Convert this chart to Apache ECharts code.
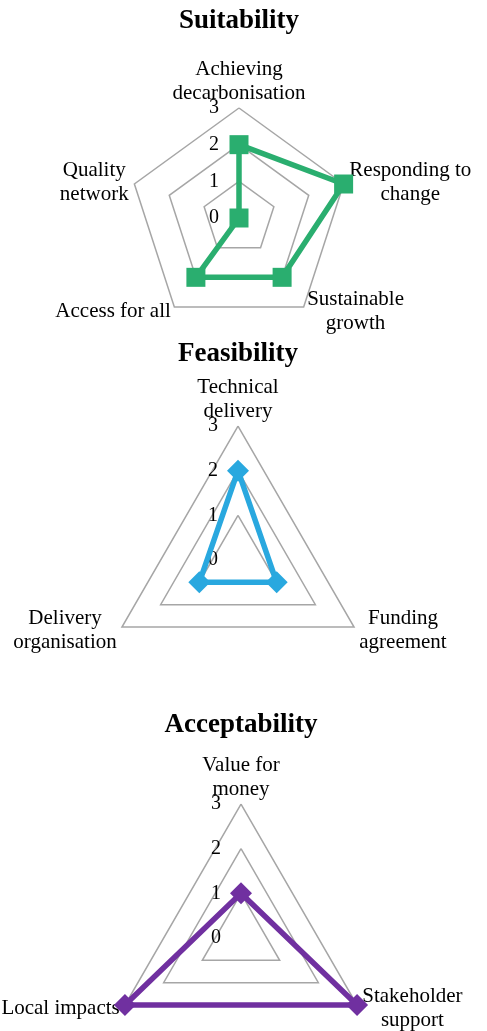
<!DOCTYPE html>
<html>
<head>
<meta charset="utf-8">
<script src="https://cdn.jsdelivr.net/npm/echarts@6/dist/echarts.min.js"></script>
<style>
  html, body { margin: 0; padding: 0; background: #fff; }
  #chart { width: 487px; height: 1031px; }
</style>
</head>
<body>
<div id="chart"></div>
<script>
// Three radar panels stacked, read clockwise from the top axis.
const titles = ['Suitability', 'Feasibility', 'Acceptability'];

const suitCats = ['Achieving\ndecarbonisation', 'Responding to\nchange', 'Sustainable\ngrowth', 'Access for all', 'Quality\nnetwork'];
const suitVals = [2, 3, 2, 2, 0];

const feasCats = ['Technical\ndelivery', 'Funding\nagreement', 'Delivery\norganisation'];
const feasVals = [2, 1, 1];

const accCats = ['Value for\nmoney', 'Stakeholder\nsupport', 'Local impacts'];
const accVals = [1, 3, 3];

const scaleMax = 3;
const tickLabels = ['0', '1', '2', '3'];

const colors = ['#2aae6f', '#29a8df', '#7030a0'];
const symbols = ['rect', 'diamond', 'diamond'];
const symbolSizes = [19, 22, 22];

// panel geometry: [cx, cy, radius, title top]
const panels = [
  [239, 218, 110, 8],
  [238, 560, 134, 341],
  [241, 938, 134, 712],
];

const FONT = 'Liberation Serif, Times New Roman, serif';

// echarts lays indicators out counter-clockwise, the source goes clockwise
const ccw = (arr) => [arr[0], ...arr.slice(1).reverse()];

function buildRadar(cats, p) {
  const ind = ccw(cats).map((name, i) => {
    const o = { name, min: 0, max: scaleMax, nameMoveOverlap: false };
    // top axis carries the tick labels and sits a bit closer to its name
    if (i === 0) { o.axisLabel = { show: true }; o.nameGap = 3; }
    return o;
  });
  return {
    center: [p[0], p[1]],
    radius: p[2],
    startAngle: 90,
    shape: 'polygon',
    splitNumber: scaleMax,
    indicator: ind,
    nameGap: 6,
    axisName: {
      formatter: (n) => n.split('\n').map(s => '{c|' + s + '}').join('\n'),
      color: '#000',
      fontFamily: FONT,
      fontSize: 21,
      lineHeight: 24,
      rich: { c: { align: 'center', color: '#000', fontFamily: FONT, fontSize: 21, lineHeight: 24 } },
    },
    axisLine: { show: false },
    axisTick: { show: false },
    axisLabel: {
      show: false,
      color: '#000',
      fontFamily: FONT,
      fontSize: 20,
      margin: 20,
      padding: [6, 0, 0, 0],
      formatter: (v) => tickLabels[v] ?? String(v),
    },
    splitLine: { lineStyle: { color: '#a6a6a6', width: 1.5 } },
    splitArea: { show: false },
  };
}

const allCats = [suitCats, feasCats, accCats];
const allVals = [suitVals, feasVals, accVals];

const option = {
  backgroundColor: '#fff',
  animation: false,
  title: titles.map((t, i) => ({
    text: t,
    left: panels[i][0],
    top: panels[i][3],
    textAlign: 'center',
    textVerticalAlign: 'top',
    padding: 0,
    textStyle: { color: '#000', fontFamily: FONT, fontSize: 27, fontWeight: 'bold' },
  })),
  radar: allCats.map((c, i) => buildRadar(c, panels[i])),
  series: allVals.map((v, i) => ({
    type: 'radar',
    radarIndex: i,
    symbol: symbols[i],
    symbolSize: symbolSizes[i],
    itemStyle: { color: colors[i] },
    lineStyle: { color: colors[i], width: 5.5 },
    data: [{ value: ccw(v), name: titles[i] }],
  })),
};

const chart = echarts.init(document.getElementById('chart'), null, { renderer: 'canvas' });
chart.setOption(option);
</script>
</body>
</html>
